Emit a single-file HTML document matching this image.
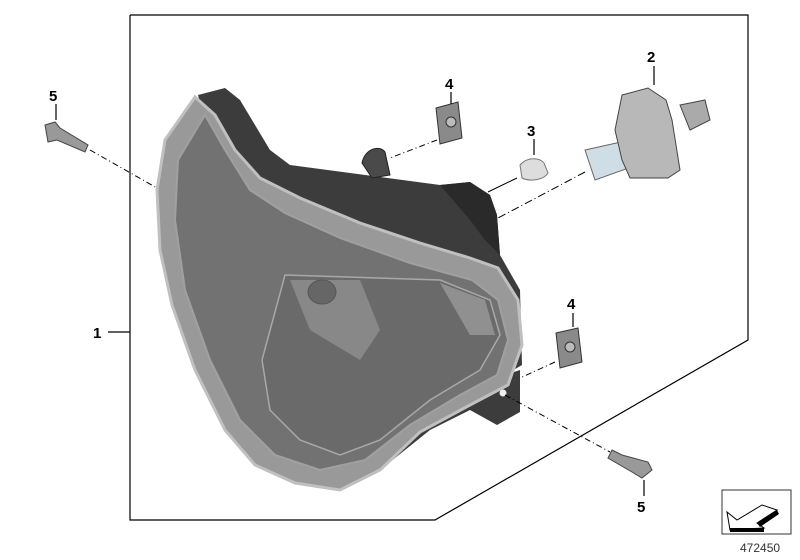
<!DOCTYPE html>
<html><head><meta charset="utf-8"><style>
html,body{margin:0;padding:0;background:#fff;width:800px;height:560px;overflow:hidden}
svg{display:block}
text{font-family:"Liberation Sans",Arial,sans-serif;font-weight:bold;font-size:15px;fill:#000}
</style></head><body>
<svg width="800" height="560" viewBox="0 0 800 560">
<polyline points="130,15 748,15 748,340 435,520 130,520 130,15" fill="none" stroke="#000" stroke-width="1.2"/>
<line x1="108" y1="332" x2="130" y2="332" stroke="#000" stroke-width="1.2"/>
<text x="93" y="338">1</text>
<!-- housing -->
<path d="M198,95 L225,88 L240,100 L270,150 L290,165 L440,185 L470,182 L490,195 L497,215 L500,255 L520,290 L522,365 L505,375 L520,370 L520,412 L497,425 L470,410 L430,430 L380,470 L340,490 L290,480 Z" fill="#3c3c3c"/>
<path d="M440,185 L470,182 L490,195 L497,215 L500,255 L485,240 L470,220 Z" fill="#2a2a2a"/>
<!-- lens -->
<path d="M195,97 L165,140 L157,190 L160,250 L172,305 L195,370 L225,430 L255,465 L295,483 L340,490 L380,470 L420,432 L470,405 L508,385 L522,345 L518,300 L498,268 L470,258 L420,243 L360,223 L300,198 L260,178 L235,150 L215,115 Z" fill="#999" stroke="#c0c0c0" stroke-width="3"/>
<path d="M205,115 L178,160 L175,220 L185,290 L210,360 L240,420 L275,455 L320,470 L365,460 L410,425 L460,395 L497,375 L508,340 L498,300 L472,280 L410,263 L340,238 L285,213 L250,190 L225,150 Z" fill="#727272" stroke="#a0a0a0" stroke-width="2"/>
<path d="M285,275 L440,280 L490,300 L500,335 L480,370 L430,400 L380,440 L340,455 L300,440 L270,410 L262,360 Z" fill="#6a6a6a" stroke="#a8a8a8" stroke-width="1.5"/>
<path d="M290,280 L360,280 L380,330 L360,360 L310,330 Z" fill="#888"/>
<ellipse cx="322" cy="292" rx="14" ry="12" fill="#666" stroke="#555"/>
<path d="M440,283 L485,300 L495,335 L470,335 Z" fill="#909090"/>
<path d="M362,163 C365,148 380,145 385,152 L390,175 L372,178 Z" fill="#4a4a4a" stroke="#222"/>
<circle cx="503" cy="393" r="3.5" fill="#eee"/>
<!-- part 5 top -->
<path d="M45,125 L55,122 L60,128 L88,145 L85,152 L57,140 L48,142 Z" fill="#999" stroke="#444"/>
<line x1="56" y1="104" x2="56" y2="120" stroke="#000" stroke-width="1.2"/>
<text x="49" y="101">5</text>
<line x1="90" y1="150" x2="157" y2="188" stroke="#000" stroke-dasharray="6,3,1,3"/>
<!-- part 4 top -->
<path d="M436,108 L458,102 L462,138 L440,144 Z" fill="#8a8a8a" stroke="#333"/>
<circle cx="451" cy="122" r="5" fill="#bbb" stroke="#333"/>
<line x1="451" y1="92" x2="451" y2="104" stroke="#000" stroke-width="1.2"/>
<text x="445" y="89">4</text>
<line x1="437" y1="140" x2="390" y2="158" stroke="#000" stroke-dasharray="6,3,1,3"/>
<!-- part 3 -->
<path d="M520,165 C528,156 540,158 544,163 L548,173 C544,180 530,182 522,178 Z" fill="#ddd" stroke="#777"/>
<line x1="534" y1="139" x2="534" y2="155" stroke="#000" stroke-width="1.2"/>
<text x="527" y="136">3</text>
<line x1="517" y1="178" x2="488" y2="192" stroke="#000"/>
<!-- part 2 -->
<path d="M585,150 L630,140 L637,165 L595,180 Z" fill="#cfdde6" stroke="#666"/>
<path d="M622,95 L648,88 L666,100 L672,120 L680,170 L668,178 L650,178 L630,178 L622,160 L615,130 Z" fill="#b8b8b8" stroke="#444"/>
<path d="M680,105 L705,100 L710,120 L690,130 Z" fill="#aaa" stroke="#444"/>
<line x1="654" y1="66" x2="654" y2="85" stroke="#000" stroke-width="1.2"/>
<text x="647" y="62">2</text>
<line x1="585" y1="172" x2="498" y2="218" stroke="#000" stroke-dasharray="8,3,1,3"/>
<!-- part 4 lower -->
<path d="M556,333 L578,328 L582,362 L560,368 Z" fill="#8a8a8a" stroke="#333"/>
<circle cx="570" cy="347" r="5" fill="#bbb" stroke="#333"/>
<line x1="573" y1="313" x2="573" y2="327" stroke="#000" stroke-width="1.2"/>
<text x="567" y="309">4</text>
<line x1="555" y1="362" x2="520" y2="378" stroke="#000" stroke-dasharray="6,3,1,3"/>
<!-- part 5 lower -->
<path d="M612,450 L622,455 L648,462 L652,470 L642,478 L632,472 L608,458 Z" fill="#999" stroke="#444"/>
<line x1="505" y1="395" x2="610" y2="452" stroke="#000" stroke-dasharray="6,3,1,3"/>
<line x1="644" y1="480" x2="644" y2="496" stroke="#000" stroke-width="1.2"/>
<text x="637" y="512">5</text>
<!-- icon -->
<rect x="722" y="490" width="69" height="44" fill="#fff" stroke="#333"/>
<path d="M727,512 L737,520 L762,505 L777,510 L757,523 L764,528 L730,530 Z" fill="#fff" stroke="#000"/>
<path d="M730,528 L764,528 L764,532 L730,532 Z M757,523 L777,510 L779,514 L760,527 Z" fill="#000"/>
<text x="740" y="552" style="font-weight:normal;font-size:12px;fill:#333">472450</text>
</svg>
</body></html>
